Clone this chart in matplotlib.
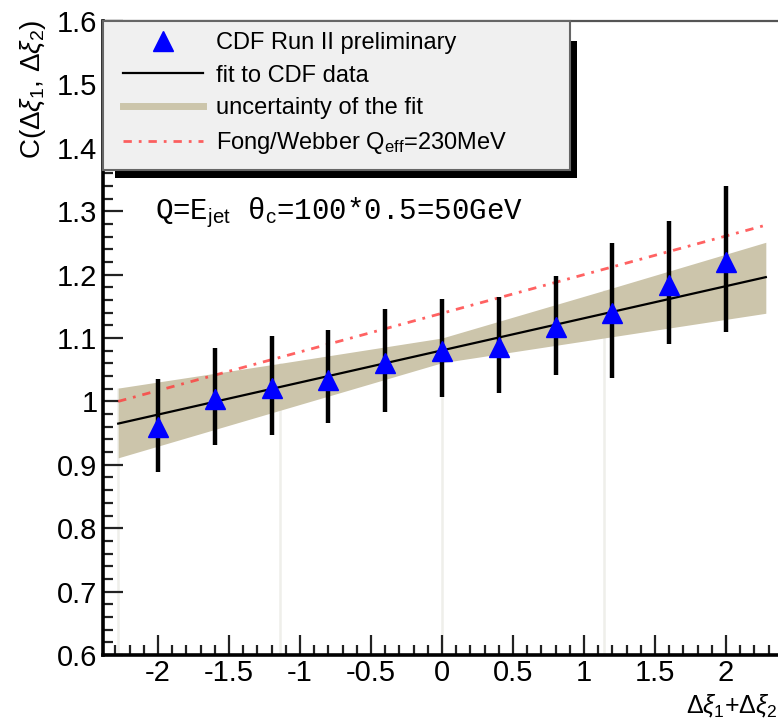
import matplotlib
matplotlib.use("Agg")
import matplotlib.pyplot as plt
from matplotlib.lines import Line2D
from matplotlib.patches import Rectangle
from matplotlib.ticker import MultipleLocator, FixedLocator, FixedFormatter

# ---------------- data ----------------
x_pts = [-2.0, -1.6, -1.2, -0.8, -0.4, 0.0, 0.4, 0.8, 1.2, 1.6, 2.0]
y_pts = [0.960, 1.004, 1.021, 1.034, 1.061, 1.080, 1.086, 1.117, 1.139, 1.184, 1.220]
y_hi = [1.035, 1.084, 1.103, 1.113, 1.146, 1.161, 1.165, 1.198, 1.250, 1.285, 1.340]
y_lo = [0.889, 0.931, 0.947, 0.966, 0.983, 1.007, 1.013, 1.042, 1.037, 1.090, 1.109]

fit_x = [-2.28, 2.28]
fit_y = [0.965, 1.196]

fw_x = [-2.28, 2.28]
fw_y = [1.000, 1.278]

band_x = [-2.28, -1.14, 0.0, 1.14, 2.28]
band_lo = [0.911, 0.986, 1.061, 1.100, 1.139]
band_hi = [1.021, 1.060, 1.100, 1.175, 1.251]

x_ticks = [-2, -1.5, -1, -0.5, 0, 0.5, 1, 1.5, 2]
x_ticklabels = ["-2", "-1.5", "-1", "-0.5", "0", "0.5", "1", "1.5", "2"]
y_ticks = [0.6, 0.7, 0.8, 0.9, 1.0, 1.1, 1.2, 1.3, 1.4, 1.5, 1.6]
y_ticklabels = ["0.6", "0.7", "0.8", "0.9", "1", "1.1", "1.2", "1.3", "1.4", "1.5", "1.6"]

legend_labels = ["CDF Run II preliminary", "fit to CDF data",
                 "uncertainty of the fit", r"Fong/Webber Q$_{\mathrm{eff}}$=230MeV"]
annotation = r"Q=E$_{\mathrm{jet}}$ θ$_{\mathrm{c}}$=100*0.5=50GeV"

# ---------------- style ----------------
plt.rcParams['font.family'] = ['Liberation Sans', 'DejaVu Sans']
plt.rcParams['mathtext.fontset'] = 'custom'
plt.rcParams['mathtext.rm'] = 'Liberation Sans'
plt.rcParams['mathtext.it'] = 'Liberation Sans:italic'

band_col = '#ccc5ab'
red_col = '#ff3b3b'

fig = plt.figure(figsize=(7.78, 7.22), dpi=100)
ax = fig.add_axes([103/778, 67/722, 680/778, 634/722])
ax.set_xlim(-2.387, 2.401)
ax.set_ylim(0.6, 1.6)

# faint artefact lines under the band
ax.vlines(band_x[:-1], 0.6, band_hi[:-1], colors='#efefea', lw=1.8, zorder=1)
ax.fill_between(band_x, band_lo, band_hi, color=band_col, lw=0, zorder=2)
ax.plot(fit_x, fit_y, color='black', lw=1.6, zorder=3)
ax.plot(fw_x, fw_y, color=red_col, lw=2.0, alpha=0.8,
        dashes=(3, 2.5, 1, 2.5), zorder=3)
ax.vlines(x_pts, y_lo, y_hi, colors='black', lw=3.2, zorder=4)
ax.plot(x_pts, y_pts, ls='none', marker='^', ms=15, color='#0000ff',
        mec='#0000ff', zorder=5)

# ticks
ax.xaxis.set_major_locator(FixedLocator(x_ticks))
ax.xaxis.set_major_formatter(FixedFormatter(x_ticklabels))
ax.xaxis.set_minor_locator(MultipleLocator(0.1))
ax.yaxis.set_major_locator(FixedLocator(y_ticks))
ax.yaxis.set_major_formatter(FixedFormatter(y_ticklabels))
ax.yaxis.set_minor_locator(MultipleLocator(0.02))
ax.tick_params(which='both', direction='in', top=False, right=False,
               colors='#222222', labelcolor='black', labelsize=21)
ax.tick_params(which='major', length=14.5, width=1.6)
ax.tick_params(which='minor', length=7.5, width=1.6)
ax.tick_params(axis='y', pad=4)
ax.tick_params(axis='x', pad=3)

for s in ['left', 'bottom']:
    ax.spines[s].set_linewidth(2.6)
    ax.spines[s].set_color('black')
ax.spines['top'].set_linewidth(1.6)
ax.spines['top'].set_color('#555555')
ax.spines['right'].set_visible(False)

# legend box with shadow (axes fraction)
lx0, lx1 = 0.0, (570 - 103) / 680
ly0, ly1 = (655 - 170) / 634, 1.0
sh = 7 / 680
shv = 8 / 634
ax.add_patch(Rectangle((lx0 + 12/680, ly0 - shv), lx1 - lx0 - 12/680 + sh, ly1 - ly0 - 12/634,
                       transform=ax.transAxes, facecolor='black', edgecolor='none',
                       zorder=9, clip_on=False))
ax.add_patch(Rectangle((lx0, ly0), lx1 - lx0, ly1 - ly0, transform=ax.transAxes,
                       facecolor='#f0f0f0', edgecolor='#666666', lw=1.5,
                       zorder=10, clip_on=False))

handles = [
    Line2D([], [], ls='none', marker='^', ms=15, color='#0000ff'),
    Line2D([], [], color='black', lw=1.6),
    Line2D([], [], color=band_col, lw=5),
    Line2D([], [], color=red_col, lw=2.0, alpha=0.8, dashes=(3, 2.5, 1, 2.5)),
]
leg = ax.legend(handles, legend_labels, loc='upper left',
                bbox_to_anchor=((116 - 103) / 680, 1.0 - 4 / 634),
                frameon=False, fontsize=17, handlelength=3.4,
                handletextpad=0.55, labelspacing=0.45, borderpad=0.3,
                borderaxespad=0)
leg.set_zorder(11)

# annotation
ax.text((155 - 103) / 680, (655 - 213) / 634, annotation, transform=ax.transAxes,
        family=['Liberation Mono', 'DejaVu Sans Mono'], fontsize=21,
        ha='left', va='center', zorder=6)

# axis labels
fig.text(33/778, 1 - 20/722, r"C($\Delta\xi_{1}$, $\Delta\xi_{2}$)", rotation=90,
         ha='center', va='top', fontsize=20)
fig.text(1.0, 1 - 706/722, r"$\Delta\xi_{1}$+$\Delta\xi_{2}$",
         ha='right', va='center', fontsize=18)

fig.savefig('out.png', dpi=100)
